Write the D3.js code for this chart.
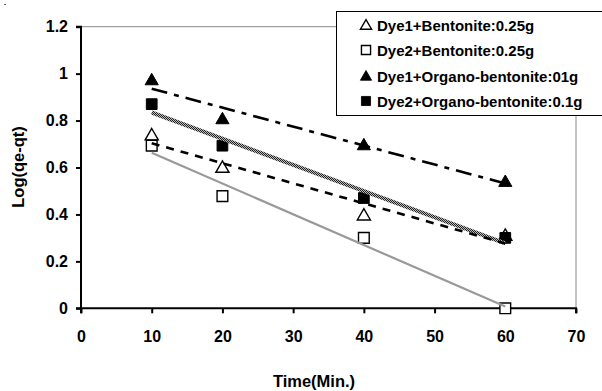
<!DOCTYPE html>
<html><head><meta charset="utf-8">
<script src="https://cdn.jsdelivr.net/npm/d3@7"></script>
<style>body{margin:0;background:#fff}svg{display:block}svg text{font-family:"Liberation Sans",Arial,sans-serif;font-weight:700;fill:#000}</style>
</head><body><svg id="c" width="602" height="391"></svg>
<script>
const times = [10, 20, 40, 60];
const dye1Bentonite = [0.738, 0.60, 0.397, 0.31];
const dye2Bentonite = [0.693, 0.478, 0.30, 0.0];
const dye1Organo = [0.973, 0.807, 0.696, 0.54];
const dye2Organo = [0.87, 0.693, 0.47, 0.30];
const seriesNames = ["Dye1+Bentonite:0.25g", "Dye2+Bentonite:0.25g", "Dye1+Organo-bentonite:01g", "Dye2+Organo-bentonite:0.1g"];
const xTicks = [0, 10, 20, 30, 40, 50, 60, 70];
const yTicks = [0, 0.2, 0.4, 0.6, 0.8, 1, 1.2];

const svg = d3.select("#c");
const x = d3.scaleLinear().domain([0, 70]).range([81, 576]);
const y = d3.scaleLinear().domain([0, 1.2]).range([308.3, 26.7]);

// checker pattern for textured trendline
const defs = svg.append("defs");
const pat = defs.append("pattern").attr("id", "chk").attr("width", 2).attr("height", 2).attr("patternUnits", "userSpaceOnUse");
pat.append("rect").attr("width", 2).attr("height", 2).attr("fill", "#bbb");
pat.append("rect").attr("width", 1).attr("height", 1).attr("fill", "#222");
pat.append("rect").attr("x", 1).attr("y", 1).attr("width", 1).attr("height", 1).attr("fill", "#222");

// tiny artifact top-left
svg.append("line").attr("x1", 4).attr("x2", 6).attr("y1", 4.5).attr("y2", 4.5).attr("stroke", "#555").attr("stroke-width", 1);

// plot border (top/right gray)
svg.append("line").attr("x1", x(0)).attr("x2", x(70)).attr("y1", y(1.2)).attr("y2", y(1.2)).attr("stroke", "#888").attr("stroke-width", 1);
svg.append("line").attr("x1", x(70)).attr("x2", x(70)).attr("y1", y(1.2)).attr("y2", y(0)).attr("stroke", "#888").attr("stroke-width", 1);

// axes
const yAxis = d3.axisLeft(y).tickValues(yTicks).tickSize(5).tickPadding(8).tickFormat(d => String(+d.toFixed(1)));
const gy = svg.append("g").attr("transform", `translate(${x(0)},0)`).call(yAxis);
const xAxis = d3.axisBottom(x).tickValues(xTicks).tickSize(5).tickPadding(17).tickFormat(d3.format("d"));
const gx = svg.append("g").attr("transform", `translate(0,${y(0)})`).call(xAxis);
[gy, gx].forEach(g => {
  g.attr("font-family", null).attr("font-size", null);
  g.select(".domain").attr("stroke", "#000").attr("stroke-width", 2);
  g.selectAll(".tick line").attr("stroke", "#000").attr("stroke-width", 2);
  g.selectAll("text").style("font-size", "16px").attr("fill", "#000");
});
gy.select(".domain").attr("d", `M-5,${y(1.2)}H0V${y(0)}H-5`);
gx.select(".domain").attr("d", `M${x(0)},5V0H${x(70)}V5`);

// axis titles
svg.append("text").attr("transform", "translate(24,167) rotate(-90)").attr("text-anchor", "middle").style("font-size", "16.5px").text("Log(qe-qt)");
svg.append("text").attr("x", 314).attr("y", 387).attr("text-anchor", "middle").style("font-size", "16.5px").text("Time(Min.)");

const series = [
  {name: seriesNames[0], vals: dye1Bentonite, shape: "tri", fill: "#fff"},
  {name: seriesNames[1], vals: dye2Bentonite, shape: "sq", fill: "#fff"},
  {name: seriesNames[2], vals: dye1Organo, shape: "tri", fill: "#000"},
  {name: seriesNames[3], vals: dye2Organo, shape: "sq", fill: "#000"}
];
const triSym = d3.symbol().type(d3.symbolTriangle).size(75);
const sqSym = d3.symbol().type(d3.symbolSquare).size(115);

function drawMarker(g, s, cx, cy, scale) {
  scale = scale || 1;
  g.append("path").attr("transform", `translate(${cx},${cy + (s.shape === "tri" ? 1 : 0)}) scale(${scale})`)
    .attr("d", s.shape === "tri" ? triSym() : sqSym())
    .attr("fill", s.fill).attr("stroke", "#000").attr("stroke-width", s.fill === "#fff" ? 1.4 / scale : 1);
}

// markers
series.forEach(s => {
  const g = svg.append("g");
  s.vals.forEach((v, i) => drawMarker(g, s, x(times[i]), y(v)));
});

// linear trendlines
function fit(xs, ys) {
  const mx = d3.mean(xs), my = d3.mean(ys);
  const sxy = d3.sum(xs, (xx, i) => (xx - mx) * (ys[i] - my));
  const sxx = d3.sum(xs, xx => (xx - mx) ** 2);
  const b = sxy / sxx;
  return xx => my + b * (xx - mx);
}
const trendStyles = [
  {stroke: "#000", width: 2.6, dash: "8,7"},
  {stroke: "#999", width: 2.2, dash: null},
  {stroke: "#000", width: 2.6, dash: "16,7,5,7"},
  {stroke: "url(#chk)", width: 4, dash: null}
];
const lineGen = d3.line().x(d => x(d[0])).y(d => y(d[1]));
[1, 3, 0, 2].forEach(k => {
  const f = fit(times, series[k].vals);
  const pts = [[times[0], f(times[0])], [times[times.length - 1], f(times[times.length - 1])]];
  const st = trendStyles[k];
  const p = svg.append("path").attr("d", lineGen(pts)).attr("fill", "none")
    .attr("stroke", st.stroke).attr("stroke-width", st.width);
  if (st.dash) p.attr("stroke-dasharray", st.dash);
});

// legend
const lg = svg.append("g");
lg.append("rect").attr("x", 336.5).attr("y", 11.5).attr("width", 270).attr("height", 104).attr("fill", "#fff").attr("stroke", "#000").attr("stroke-width", 1);
const legY = [25, 50, 76, 101];
series.forEach((s, i) => {
  drawMarker(lg, s, 366, legY[i], 0.85);
  lg.append("text").attr("x", 377).attr("y", legY[i] + 5.5).style("font-size", "15px").text(s.name);
});
</script></body></html>
